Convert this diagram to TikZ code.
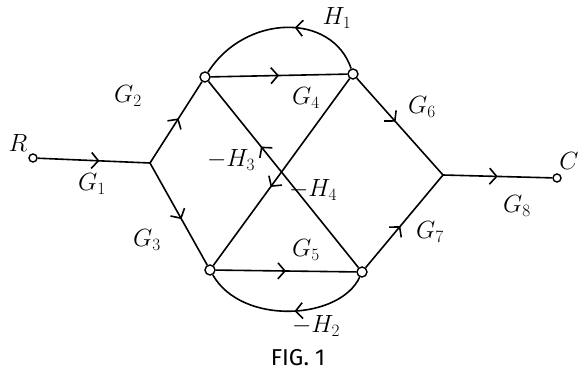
\documentclass[tikz,border=0pt]{standalone}
\usepackage{fontspec}
\newfontfamily\capfont{Fira Sans}
\usetikzlibrary{arrows.meta,decorations.markings}
\tikzset{
  every node/.style={font=\fontsize{27}{30}\selectfont},
  sig/.style={circle,draw,fill=white,line width=1.4pt,inner sep=0pt,minimum size=10pt},
  branch/.style={line width=1.6pt,postaction={decorate},
    decoration={markings,mark=at position #1 with {\arrow{Straight Barb[length=7pt,width=16pt,line width=1.6pt]}}}},
  branch/.default=0.5,
  gain/.style={inner sep=1pt},
}
\begin{document}
\begin{tikzpicture}[x=1pt,y=-1pt]
  \useasboundingbox (0,0) rectangle (581,375);
  \node[sig,minimum size=8pt] (r) at (33,158) {};
  \coordinate (j1) at (150,163);
  \node[sig] (n1) at (205,77) {};
  \node[sig] (n2) at (353,74) {};
  \node[sig] (n3) at (210,270) {};
  \node[sig] (n4) at (362,272) {};
  \coordinate (j2) at (443,175);
  \node[sig,minimum size=8pt] (c) at (557,178) {};

  % forward branches
  \draw[branch=0.55] (r) -- (j1);
  \draw[branch=0.55] (j1) -- (n1);
  \draw[branch=0.55] (j1) -- (n3);
  \draw[branch] (n1) -- (n2);
  \draw[branch] (n3) -- (n4);
  \draw[branch=0.45] (n2) -- (j2);
  \draw[branch=0.45] (n4) -- (j2);
  \draw[branch] (j2) -- (c);
  % feedback branches
  \draw[branch=0.42] (n2) .. controls (332,12) and (245,14) .. (n1);
  \draw[branch=0.45] (n4) .. controls (340,320) and (242,326) .. (n3);
  \draw[branch=0.65] (n4) -- (n1);
  \draw[branch=0.58] (n2) -- (n3);

  \node[gain] (lr) at (18,143) {$R$};
  \node[gain] (lc) at (569,161) {$C$};
  \node[gain] (g1) at (92,184) {$G_1$};
  \node[gain] (g2) at (128,96) {$G_2$};
  \node[gain] (g3) at (147,240) {$G_3$};
  \node[gain] (g4) at (306,98) {$G_4$};
  \node[gain] (g5) at (306,250) {$G_5$};
  \node[gain] (g6) at (422,107) {$G_6$};
  \node[gain] (g7) at (430,232) {$G_7$};
  \node[gain] (g8) at (517,206) {$G_8$};
  \node[gain] (h1) at (337,18) {$H_1$};
  \node[gain] (h2) at (316,326) {$-H_2$};
  \node[gain] (h3) at (231,160) {$-H_3$};
  \node[gain] (h4) at (313,190) {$-H_4$};

  \node[font=\capfont\fontsize{23}{26}\selectfont] (cap) at (298,358) {FIG. 1};
\end{tikzpicture}
\end{document}
